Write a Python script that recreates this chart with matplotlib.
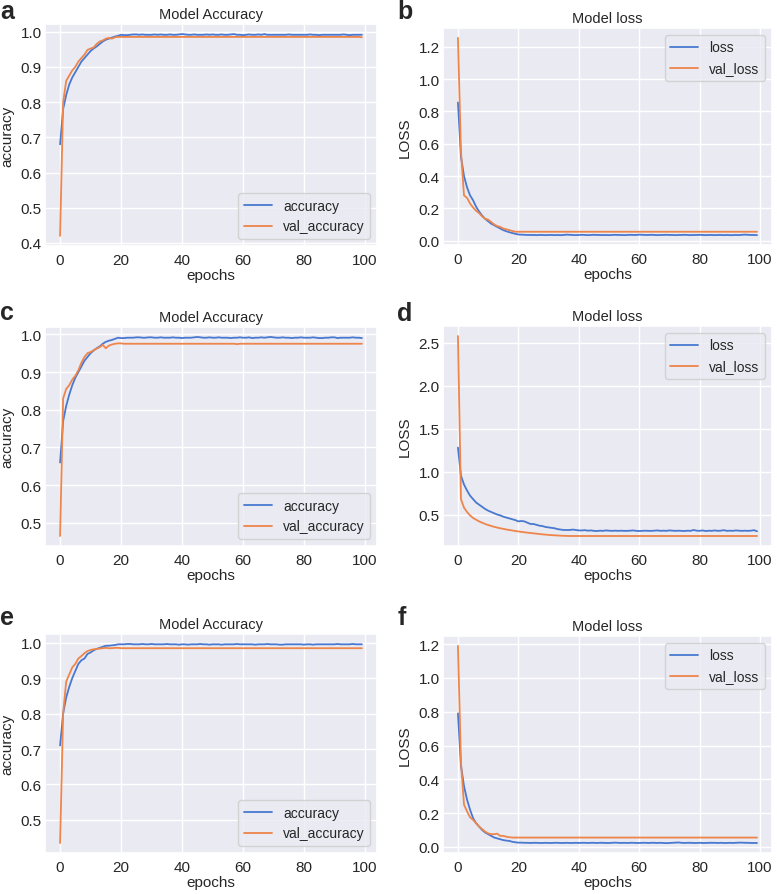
import matplotlib
matplotlib.use("Agg")
import matplotlib.pyplot as plt
import seaborn as sns

sns.set_theme(style="darkgrid", palette="muted")
plt.rcParams['font.family'] = ['Liberation Sans', 'DejaVu Sans']

epochs = list(range(100))

# panel a / b
a_acc = [0.680, 0.780, 0.820, 0.850, 0.870, 0.885, 0.900, 0.915, 0.925, 0.935, 0.945, 0.952, 0.958, 0.965, 0.972, 0.977, 0.980, 0.983, 0.986, 0.988,
         0.991, 0.990, 0.990, 0.991, 0.992, 0.992, 0.991, 0.992, 0.991, 0.991, 0.991, 0.992, 0.991, 0.992, 0.991, 0.991, 0.992, 0.991, 0.991, 0.992,
         0.993, 0.992, 0.991, 0.991, 0.992, 0.991, 0.991, 0.991, 0.992, 0.991, 0.992, 0.991, 0.991, 0.992, 0.991, 0.991, 0.992, 0.993, 0.991, 0.991,
         0.990, 0.991, 0.992, 0.991, 0.991, 0.992, 0.991, 0.993, 0.991, 0.991, 0.991, 0.991, 0.991, 0.991, 0.991, 0.992, 0.991, 0.991, 0.991, 0.991,
         0.991, 0.991, 0.992, 0.991, 0.991, 0.990, 0.991, 0.991, 0.991, 0.991, 0.991, 0.991, 0.991, 0.992, 0.991, 0.990, 0.991, 0.991, 0.991, 0.991]
a_val = [0.420, 0.800, 0.860, 0.875, 0.890, 0.900, 0.915, 0.925, 0.935, 0.948, 0.952, 0.955, 0.965, 0.972, 0.975, 0.980, 0.982, 0.980, 0.984, 0.985,
         0.985, 0.985, 0.985, 0.985, 0.985, 0.985, 0.985, 0.985, 0.985, 0.985, 0.985, 0.985, 0.985, 0.985, 0.985, 0.985, 0.985, 0.985, 0.985, 0.985,
         0.985, 0.985, 0.985, 0.985, 0.985, 0.985, 0.985, 0.985, 0.985, 0.985, 0.985, 0.985, 0.985, 0.985, 0.985, 0.985, 0.985, 0.985, 0.985, 0.985,
         0.985, 0.985, 0.985, 0.985, 0.985, 0.985, 0.985, 0.985, 0.985, 0.985, 0.985, 0.985, 0.985, 0.985, 0.985, 0.985, 0.985, 0.985, 0.985, 0.985,
         0.985, 0.985, 0.985, 0.985, 0.985, 0.985, 0.985, 0.985, 0.985, 0.985, 0.985, 0.985, 0.985, 0.985, 0.985, 0.985, 0.985, 0.985, 0.985, 0.984]
b_loss = [0.855, 0.520, 0.400, 0.330, 0.280, 0.250, 0.210, 0.180, 0.155, 0.135, 0.120, 0.105, 0.095, 0.085, 0.075, 0.065, 0.058, 0.052, 0.047, 0.042,
          0.038, 0.037, 0.036, 0.035, 0.035, 0.035, 0.034, 0.035, 0.035, 0.034, 0.035, 0.035, 0.034, 0.035, 0.034, 0.035, 0.037, 0.036, 0.035, 0.034,
          0.035, 0.036, 0.035, 0.034, 0.035, 0.036, 0.035, 0.035, 0.034, 0.035, 0.034, 0.035, 0.036, 0.035, 0.035, 0.034, 0.035, 0.036, 0.035, 0.035,
          0.037, 0.036, 0.035, 0.035, 0.036, 0.035, 0.034, 0.035, 0.035, 0.036, 0.035, 0.035, 0.034, 0.035, 0.035, 0.036, 0.035, 0.034, 0.035, 0.035,
          0.036, 0.035, 0.034, 0.035, 0.035, 0.034, 0.035, 0.035, 0.034, 0.035, 0.034, 0.034, 0.035, 0.034, 0.036, 0.037, 0.036, 0.035, 0.035, 0.034]
b_val = [1.255, 0.550, 0.280, 0.265, 0.230, 0.205, 0.185, 0.170, 0.150, 0.135, 0.130, 0.115, 0.100, 0.090, 0.085, 0.075, 0.070, 0.065, 0.060, 0.055,
         0.055, 0.055, 0.055, 0.055, 0.055, 0.055, 0.055, 0.055, 0.055, 0.055, 0.055, 0.055, 0.055, 0.055, 0.055, 0.055, 0.055, 0.055, 0.055, 0.055,
         0.055, 0.055, 0.055, 0.055, 0.055, 0.055, 0.055, 0.055, 0.055, 0.055, 0.055, 0.055, 0.055, 0.055, 0.055, 0.055, 0.055, 0.055, 0.055, 0.055,
         0.055, 0.055, 0.055, 0.055, 0.055, 0.055, 0.055, 0.055, 0.055, 0.055, 0.055, 0.055, 0.055, 0.055, 0.055, 0.055, 0.055, 0.055, 0.055, 0.055,
         0.055, 0.055, 0.055, 0.055, 0.055, 0.055, 0.055, 0.055, 0.055, 0.055, 0.055, 0.055, 0.055, 0.055, 0.055, 0.055, 0.055, 0.055, 0.055, 0.055]

# panel c / d
c_acc = [0.660, 0.770, 0.810, 0.840, 0.865, 0.885, 0.900, 0.915, 0.930, 0.940, 0.950, 0.957, 0.963, 0.968, 0.975, 0.980, 0.983, 0.985, 0.988, 0.991,
         0.990, 0.990, 0.991, 0.991, 0.991, 0.992, 0.992, 0.991, 0.991, 0.992, 0.992, 0.991, 0.991, 0.992, 0.991, 0.991, 0.991, 0.992, 0.991, 0.991,
         0.990, 0.991, 0.991, 0.991, 0.992, 0.993, 0.992, 0.991, 0.991, 0.992, 0.991, 0.991, 0.992, 0.991, 0.991, 0.991, 0.990, 0.991, 0.991, 0.992,
         0.991, 0.991, 0.992, 0.990, 0.991, 0.991, 0.992, 0.991, 0.992, 0.993, 0.992, 0.991, 0.991, 0.992, 0.991, 0.991, 0.990, 0.991, 0.991, 0.992,
         0.991, 0.991, 0.991, 0.992, 0.991, 0.990, 0.990, 0.991, 0.991, 0.992, 0.992, 0.990, 0.991, 0.991, 0.991, 0.991, 0.992, 0.991, 0.991, 0.990]
c_val = [0.465, 0.830, 0.855, 0.865, 0.880, 0.890, 0.905, 0.925, 0.940, 0.950, 0.953, 0.958, 0.962, 0.966, 0.972, 0.963, 0.970, 0.973, 0.975, 0.976,
         0.976, 0.975, 0.975, 0.975, 0.975, 0.975, 0.975, 0.975, 0.975, 0.975, 0.975, 0.975, 0.975, 0.975, 0.975, 0.975, 0.975, 0.975, 0.975, 0.975,
         0.975, 0.975, 0.975, 0.975, 0.975, 0.975, 0.975, 0.975, 0.975, 0.975, 0.975, 0.975, 0.975, 0.975, 0.975, 0.975, 0.975, 0.975, 0.974, 0.975,
         0.975, 0.975, 0.975, 0.975, 0.975, 0.975, 0.975, 0.975, 0.975, 0.975, 0.975, 0.975, 0.975, 0.975, 0.975, 0.975, 0.975, 0.975, 0.975, 0.975,
         0.975, 0.975, 0.975, 0.975, 0.975, 0.975, 0.975, 0.975, 0.975, 0.975, 0.975, 0.975, 0.975, 0.975, 0.975, 0.975, 0.975, 0.975, 0.975, 0.975]
d_loss = [1.280, 0.950, 0.850, 0.780, 0.720, 0.680, 0.640, 0.615, 0.590, 0.565, 0.545, 0.530, 0.515, 0.500, 0.490, 0.475, 0.465, 0.455, 0.445, 0.435,
          0.420, 0.425, 0.420, 0.405, 0.390, 0.390, 0.380, 0.370, 0.365, 0.355, 0.350, 0.345, 0.340, 0.330, 0.325, 0.320, 0.320, 0.320, 0.325, 0.320,
          0.315, 0.315, 0.318, 0.312, 0.315, 0.310, 0.308, 0.312, 0.310, 0.315, 0.312, 0.310, 0.312, 0.310, 0.312, 0.310, 0.310, 0.312, 0.315, 0.310,
          0.308, 0.310, 0.312, 0.310, 0.310, 0.312, 0.315, 0.310, 0.312, 0.310, 0.315, 0.312, 0.310, 0.312, 0.310, 0.308, 0.312, 0.310, 0.320, 0.312,
          0.310, 0.315, 0.308, 0.312, 0.310, 0.315, 0.310, 0.312, 0.318, 0.310, 0.312, 0.310, 0.315, 0.312, 0.310, 0.312, 0.310, 0.312, 0.318, 0.305]
d_val = [2.580, 0.680, 0.580, 0.530, 0.490, 0.460, 0.440, 0.420, 0.405, 0.390, 0.378, 0.367, 0.357, 0.348, 0.340, 0.333, 0.326, 0.320, 0.314, 0.308,
         0.303, 0.298, 0.293, 0.289, 0.285, 0.281, 0.277, 0.273, 0.269, 0.266, 0.263, 0.260, 0.258, 0.256, 0.254, 0.252, 0.251, 0.250, 0.250, 0.250,
         0.250, 0.250, 0.250, 0.250, 0.250, 0.250, 0.250, 0.250, 0.250, 0.250, 0.250, 0.250, 0.250, 0.250, 0.250, 0.250, 0.250, 0.250, 0.250, 0.250,
         0.250, 0.250, 0.250, 0.250, 0.250, 0.250, 0.250, 0.250, 0.250, 0.250, 0.250, 0.250, 0.250, 0.250, 0.250, 0.250, 0.250, 0.250, 0.250, 0.250,
         0.250, 0.250, 0.250, 0.250, 0.250, 0.250, 0.250, 0.250, 0.250, 0.250, 0.250, 0.250, 0.250, 0.250, 0.250, 0.250, 0.250, 0.250, 0.250, 0.250]

# panel e / f
e_acc = [0.710, 0.800, 0.845, 0.875, 0.900, 0.920, 0.940, 0.950, 0.955, 0.968, 0.972, 0.978, 0.982, 0.985, 0.988, 0.991, 0.991, 0.992, 0.993, 0.995,
         0.995, 0.995, 0.996, 0.996, 0.995, 0.995, 0.995, 0.996, 0.995, 0.995, 0.996, 0.995, 0.995, 0.995, 0.995, 0.996, 0.995, 0.995, 0.995, 0.994,
         0.995, 0.995, 0.994, 0.995, 0.995, 0.995, 0.996, 0.995, 0.995, 0.994, 0.995, 0.995, 0.995, 0.994, 0.995, 0.995, 0.995, 0.995, 0.996, 0.995,
         0.995, 0.995, 0.995, 0.995, 0.994, 0.995, 0.995, 0.995, 0.996, 0.995, 0.995, 0.995, 0.994, 0.994, 0.995, 0.995, 0.995, 0.995, 0.995, 0.995,
         0.994, 0.995, 0.995, 0.994, 0.995, 0.995, 0.995, 0.995, 0.995, 0.995, 0.995, 0.996, 0.995, 0.995, 0.995, 0.995, 0.996, 0.995, 0.995, 0.995]
e_val = [0.435, 0.800, 0.890, 0.910, 0.930, 0.940, 0.955, 0.962, 0.970, 0.976, 0.979, 0.981, 0.982, 0.983, 0.984, 0.985, 0.984, 0.984, 0.985, 0.985,
         0.984, 0.984, 0.984, 0.984, 0.984, 0.984, 0.984, 0.984, 0.984, 0.984, 0.984, 0.984, 0.984, 0.984, 0.984, 0.984, 0.984, 0.984, 0.984, 0.984,
         0.984, 0.984, 0.984, 0.984, 0.984, 0.984, 0.984, 0.984, 0.984, 0.984, 0.984, 0.984, 0.984, 0.984, 0.984, 0.984, 0.984, 0.984, 0.984, 0.984,
         0.984, 0.984, 0.984, 0.984, 0.984, 0.984, 0.984, 0.984, 0.984, 0.984, 0.984, 0.984, 0.984, 0.984, 0.984, 0.984, 0.984, 0.984, 0.984, 0.984,
         0.984, 0.984, 0.984, 0.984, 0.984, 0.984, 0.984, 0.984, 0.984, 0.984, 0.984, 0.984, 0.984, 0.984, 0.984, 0.984, 0.984, 0.984, 0.984, 0.984]
f_loss = [0.790, 0.480, 0.360, 0.280, 0.220, 0.170, 0.140, 0.120, 0.100, 0.085, 0.075, 0.065, 0.055, 0.050, 0.045, 0.040, 0.037, 0.035, 0.030, 0.027,
          0.025, 0.025, 0.024, 0.024, 0.023, 0.024, 0.024, 0.023, 0.023, 0.024, 0.023, 0.023, 0.024, 0.024, 0.023, 0.023, 0.024, 0.023, 0.023, 0.024,
          0.023, 0.024, 0.024, 0.023, 0.024, 0.024, 0.023, 0.024, 0.024, 0.023, 0.023, 0.024, 0.025, 0.024, 0.023, 0.024, 0.023, 0.024, 0.024, 0.023,
          0.023, 0.024, 0.024, 0.023, 0.024, 0.024, 0.023, 0.024, 0.023, 0.022, 0.023, 0.024, 0.025, 0.026, 0.024, 0.023, 0.024, 0.024, 0.023, 0.023,
          0.024, 0.023, 0.023, 0.024, 0.024, 0.024, 0.023, 0.024, 0.023, 0.023, 0.024, 0.023, 0.024, 0.025, 0.025, 0.024, 0.024, 0.023, 0.023, 0.023]
f_val = [1.190, 0.500, 0.250, 0.210, 0.175, 0.160, 0.140, 0.120, 0.105, 0.090, 0.080, 0.075, 0.075, 0.078, 0.065, 0.065, 0.060, 0.057, 0.055, 0.055,
         0.055, 0.055, 0.055, 0.055, 0.055, 0.055, 0.055, 0.055, 0.055, 0.055, 0.055, 0.055, 0.055, 0.055, 0.055, 0.055, 0.055, 0.055, 0.055, 0.055,
         0.055, 0.055, 0.055, 0.055, 0.055, 0.055, 0.055, 0.055, 0.055, 0.055, 0.055, 0.055, 0.055, 0.055, 0.055, 0.055, 0.055, 0.055, 0.055, 0.055,
         0.055, 0.055, 0.055, 0.055, 0.055, 0.055, 0.055, 0.055, 0.055, 0.055, 0.055, 0.055, 0.055, 0.055, 0.055, 0.055, 0.055, 0.055, 0.055, 0.055,
         0.055, 0.055, 0.055, 0.055, 0.055, 0.055, 0.055, 0.055, 0.055, 0.055, 0.055, 0.055, 0.055, 0.055, 0.055, 0.055, 0.055, 0.055, 0.055, 0.055]

W, H = 777, 895
fig = plt.figure(figsize=(W / 100, H / 100), dpi=100)


def add_ax(left, top, right, bottom):
    return fig.add_axes([left / W, 1 - bottom / H, (right - left) / W, (bottom - top) / H])


panels = [
    # letter, axes box (px), letter baseline (px), train, val, kind
    ('a', (45, 25, 377, 247), (0, 19), a_acc, a_val, 'acc'),
    ('b', (443, 29, 772, 246), (397, 19), b_loss, b_val, 'loss'),
    ('c', (45, 328, 377, 547), (0, 320), c_acc, c_val, 'acc'),
    ('d', (443, 327, 772, 547), (397, 321), d_loss, d_val, 'loss'),
    ('e', (45, 635, 377, 854), (0, 625), e_acc, e_val, 'acc'),
    ('f', (443, 637, 772, 854), (398, 625), f_loss, f_val, 'loss'),
]

for letter, box, lpos, train, val, kind in panels:
    ax = add_ax(*box)
    width = box[2] - box[0]
    if kind == 'acc':
        ax.plot(epochs, train, label='accuracy', lw=1.3)
        ax.plot(epochs, val, label='val_accuracy', lw=1.3)
        ax.set_title('Model Accuracy', fontsize=10.5, pad=4)
        ax.set_ylabel('accuracy', fontsize=11)
        ax.yaxis.set_label_coords((14 - box[0]) / width, 0.5)
        ax.legend(loc='lower right', fontsize=10)
    else:
        ax.plot(epochs, train, label='loss', lw=1.3)
        ax.plot(epochs, val, label='val_loss', lw=1.3)
        ax.set_title('Model loss', fontsize=10.5, pad=4)
        ax.set_ylabel('LOSS', fontsize=11)
        ax.yaxis.set_label_coords((412 - box[0]) / width, 0.5)
        ax.legend(loc='upper right', fontsize=10)
    ax.set_xlabel('epochs', fontsize=11, labelpad=1)
    ax.set_xticks([0, 20, 40, 60, 80, 100])
    ax.tick_params(axis='x', labelsize=11, length=0, pad=5)
    ax.tick_params(axis='y', labelsize=11, length=0, pad=2.5)
    fig.text(lpos[0] / W, 1 - lpos[1] / H, letter, fontsize=18, fontweight='bold',
             ha='left', va='baseline')

fig.savefig('out.png', dpi=100)
